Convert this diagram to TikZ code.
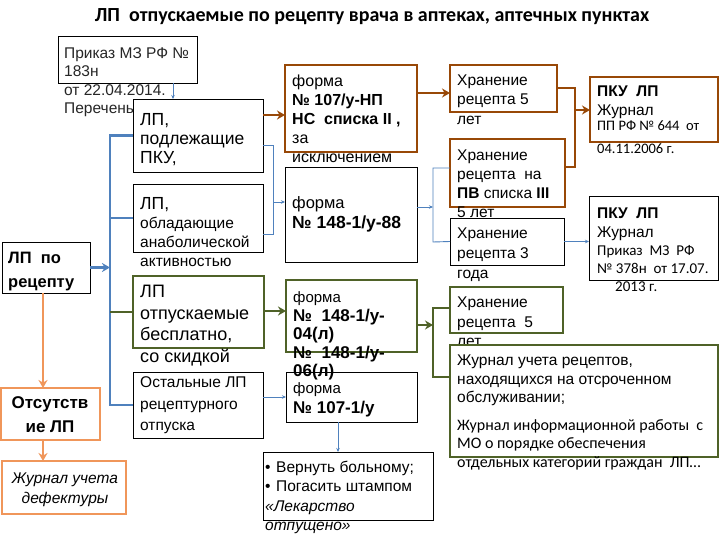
\documentclass[tikz,border=0pt]{standalone}
\usepackage{fontspec}
\setmainfont{Liberation Sans}
\newfontfamily\calfont{Carlito}
\usetikzlibrary{arrows.meta}
\definecolor{lpblue}{RGB}{79,129,189}
\definecolor{lpbrown}{RGB}{152,72,7}
\definecolor{lpgreen}{RGB}{79,98,40}
\definecolor{lporange}{RGB}{240,150,90}
\newcommand\setfs[2]{\fontsize{#1}{#2}\selectfont}
\tikzset{
  box/.style={draw, fill=white, anchor=north west, inner sep=0pt, outer sep=0pt, line width=.9pt},
  brownbox/.style={box, draw=lpbrown, line width=2.4pt},
  greenbox/.style={box, draw=lpgreen, line width=2.4pt},
  orangebox/.style={box, draw=lporange, line width=2.4pt},
  % anchor is the baseline of the last line
  txt/.style={anchor=base west, inner sep=0pt, align=left},
  blueline/.style={draw=lpblue, line width=2.6pt},
  thinline/.style={draw=lpblue, line width=.9pt},
  brownline/.style={draw=lpbrown, line width=2.6pt},
  greenline/.style={draw=lpgreen, line width=2.6pt},
  orangeline/.style={draw=lporange, line width=2.6pt},
  tip/.style={-{Stealth[length=8pt,width=9pt]}},
  smalltip/.style={-{Stealth[length=4pt,width=3.5pt]}}
}
\begin{document}
\begin{tikzpicture}[x=1pt, y=-1pt]
  \useasboundingbox[fill=white] (0,0) rectangle (720,540);
  \node[font=\calfont\bfseries\setfs{20}{22}] (title) at (372,17)
    {ЛП\ \ отпускаемые по рецепту врача в аптеках, аптечных пунктах};

  % left column
  \node[box, minimum width=139pt, minimum height=47pt] (prik) at (58,36) {};
  \node[box, minimum width=88pt, minimum height=51pt] (rec) at (2,242) {};
  \node[orangebox, minimum width=99pt, minimum height=52pt] (abs) at (1,388) {};
  \node[orangebox, minimum width=124pt, minimum height=53pt] (defect) at (2,461) {};

  % groups of drugs
  \node[box, minimum width=130pt, minimum height=73pt] (pku) at (133,99) {};
  \node[box, minimum width=130pt, minimum height=68pt] (anab) at (133,184) {};
  \node[greenbox, minimum width=131pt, minimum height=72pt] (free) at (133,276) {};
  \node[box, minimum width=130pt, minimum height=66pt] (rest) at (133,372) {};

  % forms
  \node[brownbox, minimum width=132pt, minimum height=87pt] (f107) at (285,65) {};
  \node[box, minimum width=132pt, minimum height=95pt] (f148) at (285,167) {};
  \node[greenbox, minimum width=131pt, minimum height=72pt] (f148l) at (286,280) {};
  \node[box, minimum width=131pt, minimum height=50pt] (f1071) at (286,372) {};
  \node[box, minimum width=170pt, minimum height=68pt] (back) at (263,452) {};

  % storage
  \node[brownbox, minimum width=107pt, minimum height=47pt] (st5) at (450,65) {};
  \node[brownbox, minimum width=115pt, minimum height=68pt] (stpv) at (450,139) {};
  \node[box, minimum width=114pt, minimum height=47pt] (st3) at (450,218) {};
  \node[greenbox, minimum width=113pt, minimum height=46pt] (stg) at (450,287) {};

  % journals
  \node[brownbox, minimum width=128pt, minimum height=65pt] (pkua) at (590,77) {};
  \node[box, minimum width=129pt, minimum height=84pt] (pkub) at (589,196) {};

  % texts
  \node[txt, font=\setfs{15.5}{18.5}, text=black!85] (tprik) at (64,114)
    {Приказ МЗ РФ №\\183н\\от 22.04.2014.\\Перечень};
  \node[txt, font=\bfseries\setfs{16.5}{24}] (trec) at (8,287.5) {ЛП\ \ по\\рецепту};
  \node[txt, anchor=base, align=center, font=\bfseries\setfs{17}{24}] (tabs) at (50,432.5)
    {Отсутств\\ие ЛП};
  \node[txt, anchor=base, align=center, font=\itshape\setfs{15.5}{20}] (tdefect) at (65,503)
    {Журнал учета\\дефектуры};
  \node[txt, font=\setfs{17.5}{19}] (tpku) at (140,164) {ЛП,\\подлежащие\\ПКУ,};
  \node[txt, font=\setfs{15.5}{19}] (tanab) at (140,266)
    {{\setfs{17.5}{19}ЛП,}\\обладающие\\анаболической\\активностью};
  \node[txt, font=\setfs{18}{21.5}] (tfree) at (140,362)
    {ЛП\\отпускаемые\\бесплатно,\\со скидкой};
  \node[txt, font=\setfs{15.5}{21.5}] (trest) at (140,430.5)
    {Остальные ЛП\\рецептурного\\отпуска};
  \node[txt, font=\setfs{16}{19}] (tf107) at (292,163)
    {форма\\\textbf{№ 107/у-НП}\\\textbf{НС\ \ списка II ,}\\за\\исключением};
  \node[txt, font=\setfs{17.5}{20}] (tf148) at (292,228.5)
    {{\setfs{16.5}{20}форма}\\\textbf{№ 148-1/у-88}};
  \node[txt, font=\setfs{17}{18.5}] (tf148l) at (293,376.5)
    {{\setfs{15}{18.5}форма}\\\textbf{№\ \ 148-1/у-}\\\textbf{04(л)}\\\textbf{№\ \ 148-1/у-}\\\textbf{06(л)}};
  \node[txt, font=\setfs{17}{19.5}] (tf1071) at (293,413)
    {{\setfs{15}{19.5}форма}\\\textbf{№ 107-1/у}};
  \node[txt, font=\setfs{15.5}{19.5}] (tback) at (265,530.5)
    {\makebox[11pt][l]{•}Вернуть больному;\\\makebox[11pt][l]{•}Погасить штампом\\\textit{«Лекарство}\\\textit{отпущено»}};
  \node[txt, font=\setfs{15.5}{19.5}] (tst5) at (457,124.5) {Хранение\\рецепта 5\\лет};
  \node[txt, font=\setfs{15.5}{19}] (tstpv) at (457,217.5)
    {Хранение\\рецепта\ \ на\\\textbf{ПВ} списка \textbf{III}\\5 лет};
  \node[txt, font=\setfs{15.5}{20}] (tst3) at (457,278.5) {Хранение\\рецепта 3\\года};
  \node[txt, font=\setfs{15.5}{19.5}] (tstg) at (457,346.5) {Хранение\\рецепта\ \ 5\\лет};
  \node[txt, font=\setfs{15.5}{19}] (tpkua) at (597,116) {\textbf{ПКУ\ \ ЛП}\\Журнал};
  \node[txt, font=\calfont\setfs{14.5}{23}] (tpkua2) at (597,154) {ПП РФ № 644\ \ от\\04.11.2006 г.};
  \node[txt, font=\setfs{15.5}{19.5}] (tpkub) at (597,237.5) {\textbf{ПКУ\ \ ЛП}\\Журнал};
  \node[txt, font=\calfont\setfs{15}{18}] (tpkub2) at (597,291)
    {Приказ\ \ МЗ\ \ РФ\\№ 378н\ \ от 17.07.\\\hspace*{18pt}2013 г.};

  % journal box lies over the text above it
  \node[greenbox, minimum width=268pt, minimum height=112pt] (jour) at (450,345) {};
  \node[txt, font=\setfs{15.5}{18.5}] (tjour) at (457,402.5)
    {Журнал учета рецептов,\\находящихся на отсроченном\\обслуживании;};
  \node[txt, font=\calfont\setfs{16}{18.5}] (tjour2) at (457,467)
    {Журнал информационной работы\ \ с\\МО о порядке обеспечения\\отдельных категорий граждан\ \ ЛП…};

  % connectors
  \coordinate (bus) at (110,268);
  \draw[blueline] (pku.west) -| (bus) |- (rest.west);
  \draw[blueline] (anab.west) -- (anab.west -| bus);
  \draw[greenline] (free.west) -- (free.west -| bus);
  \draw[blueline, tip] (rec.east) -- (rec.east -| bus);
  \draw[orangeline, tip] (rec.south -| 43,0) -- (abs.north -| 43,0);
  \draw[orangeline, tip] (abs.south -| 43,0) -- (defect.north -| 43,0);
  \draw[thinline, smalltip] (prik.south -| 173,0) -- (pku.north -| 173,0);

  \draw[brownline, tip] (pku.east |- 0,115) -- (f107.west |- 0,115);
  \draw[thinline] (pku.east |- 0,145) -| (273,234) -- (anab.east |- 0,234);
  \draw[thinline, smalltip] (273,202) -- (f148.west |- 0,202);
  \draw[greenline, tip] (free.east |- 0,311) -- (f148l.west |- 0,311);
  \draw[thinline, smalltip] (rest.east |- f1071.west) -- (f1071.west);
  \draw[thinline, smalltip] (f1071.south -| 338,0) -- (back.north -| 338,0);

  \draw[brownline, tip] (f107.east |- 0,93) -- (st5.west |- 0,93);
  \draw[brownline] (st5.east |- 0,88) -| (575,167) -- (stpv.east |- 0,167);
  \draw[brownline, tip] (575,110) -- (pkua.west |- 0,110);
  \draw[thinline, smalltip] (f148.east |- 0,207) -- (433,207);
  \draw[thinline] (stpv.west |- 0,168) -| (433,242) -- (st3.west);
  \draw[thinline, smalltip] (st3.east) -- (pkub.west |- st3.east);
  \draw[greenline, tip] (f148l.east |- 0,325) -- (433,325);
  \draw[greenline] (stg.west |- 0,308) -| (433,377) -- (jour.west |- 0,377);
\end{tikzpicture}
\end{document}
